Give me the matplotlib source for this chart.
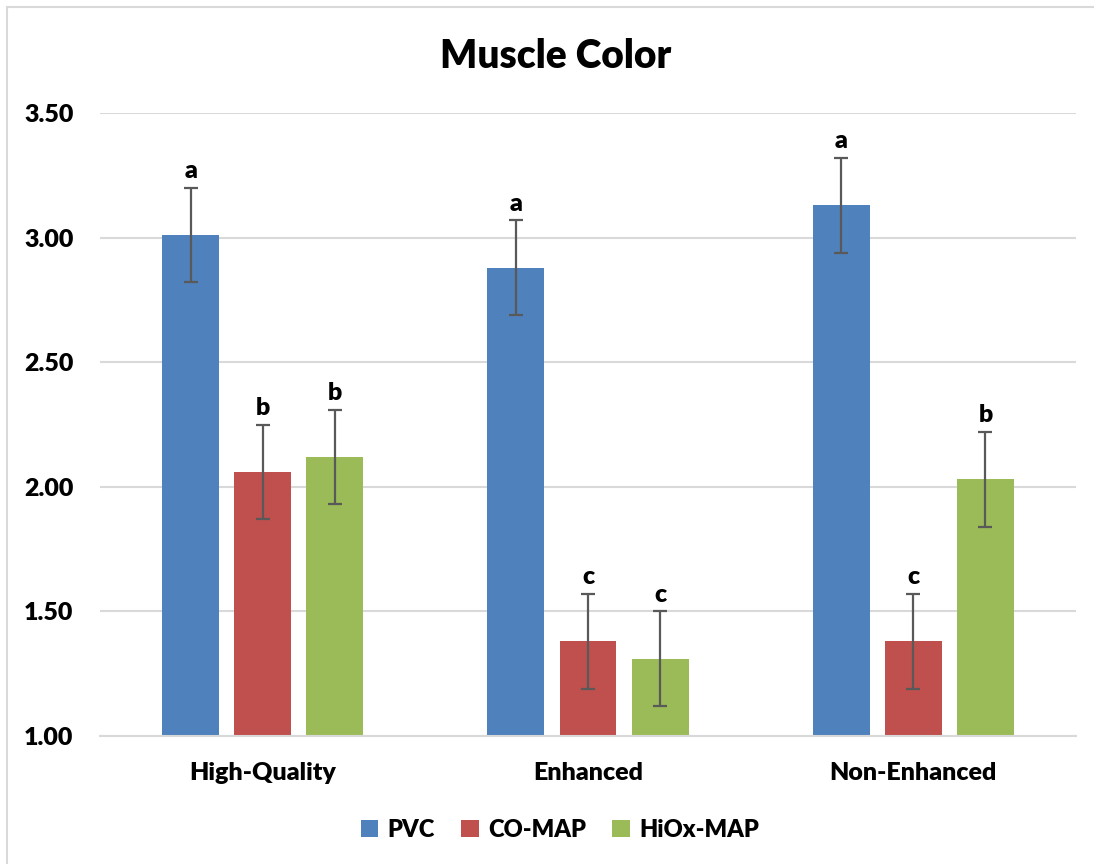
import matplotlib
matplotlib.use("Agg")
import matplotlib.pyplot as plt
import numpy as np
from matplotlib.patches import Rectangle

categories = ["High-Quality", "Enhanced", "Non-Enhanced"]
series = ["PVC", "CO-MAP", "HiOx-MAP"]
pvc = [3.01, 2.88, 3.13]
co_map = [2.06, 1.38, 1.38]
hiox_map = [2.12, 1.31, 2.03]
pvc_err = [0.19, 0.19, 0.19]
co_err = [0.19, 0.19, 0.19]
hiox_err = [0.19, 0.19, 0.19]
pvc_letters = ["a", "a", "a"]
co_letters = ["b", "c", "c"]
hiox_letters = ["b", "c", "b"]
yticks = [1.00, 1.50, 2.00, 2.50, 3.00, 3.50]

colors = ["#4F81BD", "#C0504D", "#9BBB59"]
font = ["Lato", "DejaVu Sans"]
plt.rcParams['font.family'] = font
plt.rcParams['font.weight'] = 'bold'

fig = plt.figure(figsize=(10.94, 8.64), dpi=100)
ax = fig.add_axes([100/1094, 1-736/864, 976/1094, 623/864])

x = np.arange(len(categories))
width = 0.175
step = 0.2215
data = [(pvc, pvc_err, pvc_letters), (co_map, co_err, co_letters), (hiox_map, hiox_err, hiox_letters)]
for i, (vals, errs, letters) in enumerate(data):
    pos = x + (i - 1) * step
    ax.bar(pos, np.array(vals) - 1.0, width, bottom=1.0, color=colors[i], label=series[i], zorder=2)
    ax.errorbar(pos, vals, yerr=errs, fmt='none', ecolor='#595959', elinewidth=1.6,
                capsize=5, capthick=1.6, zorder=3)
    for p, v, e, l in zip(pos, vals, errs, letters):
        ax.annotate(l, (p, v + e), xytext=(0, 4), textcoords='offset points',
                    ha='center', va='bottom', fontsize=18, fontweight='heavy')

ax.set_xlim(-0.5, 2.5)
ax.set_ylim(1.0, 3.5)
ax.set_yticks(yticks)
ax.set_yticklabels([f"{t:.2f}" for t in yticks], fontsize=18, fontweight='heavy')
ax.set_xticks(x)
ax.set_xticklabels(categories, fontsize=18, fontweight='heavy')
ax.tick_params(axis='x', length=0, pad=19)
ax.tick_params(axis='y', length=0, pad=19)
ax.yaxis.grid(True, color='#D9D9D9', linewidth=1.5, zorder=0)
ax.set_axisbelow(True)
for s in ["top", "right", "left"]:
    ax.spines[s].set_visible(False)
ax.spines["bottom"].set_color('#D9D9D9')
ax.spines["bottom"].set_linewidth(1.5)

fig.text(556/1094, 1-57/864, "Muscle Color", ha='center', va='center', fontsize=28, fontweight='heavy')

handles, labels = ax.get_legend_handles_labels()
fig.legend(handles, labels, loc='center', bbox_to_anchor=(560/1094, 1-830/864), ncol=3,
           frameon=False, prop={'size': 17, 'weight': 'heavy'}, handlelength=0.75,
           handleheight=0.75, columnspacing=1.1, handletextpad=0.4)

fig.add_artist(Rectangle((7/1094, -0.01), 1.1, 1 - 7/864 + 0.01, transform=fig.transFigure,
                         fill=False, edgecolor='#D9D9D9', linewidth=1.5))

fig.savefig("out.png", dpi=100)
